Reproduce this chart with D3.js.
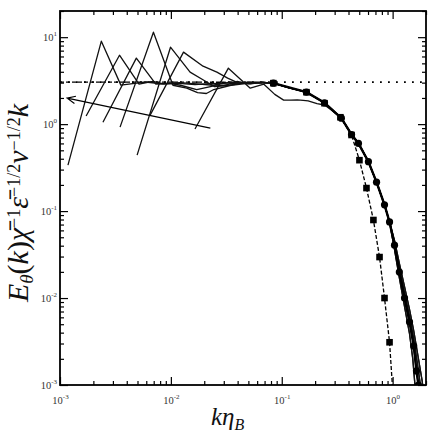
<!DOCTYPE html>
<html>
<head>
<meta charset="utf-8">
<script src="https://cdn.jsdelivr.net/npm/d3@7"></script>
<style>
  body { margin: 0; background: #fff; }
  .tick-label { font-family: "Liberation Serif", "DejaVu Serif", serif; fill: #333; }
  .title { font-family: "Liberation Serif", "DejaVu Serif", serif; fill: #111; }
</style>
</head>
<body>
<svg id="chart"></svg>
<script>
// ---- data ----
const xMajor = [1e-3, 1e-2, 1e-1, 1e0];
const xExp = ['-3', '-2', '-1', '0'];
const yMajor = [1e-3, 1e-2, 1e-1, 1e0, 1e1];
const yExp = ['-3', '-2', '-1', '0', '1'];

const plateau = 3.04;

// spectra heads (first harmonics + inertial wiggles)
const specA = [[0.00118,0.338],[0.00236,9.0],[0.00354,2.81],[0.00472,2.95],[0.0059,3.05],[0.0083,2.9],[0.0118,2.95],[0.0165,2.85],[0.0236,2.95],[0.033,2.9],[0.047,3.0]];
const specB = [[0.00172,1.24],[0.00344,6.2],[0.00516,2.88],[0.00688,3.1],[0.0086,2.9],[0.012,3.0],[0.0172,2.9],[0.024,2.8],[0.034,3.05],[0.048,2.95]];
const specC = [[0.00244,1.05],[0.00488,5.74],[0.00732,2.88],[0.00976,2.95],[0.0122,2.8],[0.0171,2.5],[0.0244,2.75],[0.034,2.8],[0.049,3.05]];
const specD = [[0.00348,0.924],[0.00696,11.4],[0.01044,2.8],[0.0139,2.6],[0.0174,2.3],[0.0209,2.25],[0.0244,2.5],[0.0348,2.8],[0.049,2.95]];
const specE = [[0.00496,0.44],[0.00992,7.67],[0.0149,3.96],[0.0198,3.2],[0.0248,2.7],[0.0298,2.75],[0.0397,3.1],[0.0496,2.9]];
const specG = [[0.0065,1.27],[0.013,6.73],[0.0195,4.64],[0.026,3.96],[0.0325,3.38],[0.039,3.04],[0.052,2.9]];
const specF = [[0.0165,0.88],[0.033,4.4],[0.052,2.59],[0.069,2.88],[0.0865,2.2],[0.104,1.89],[0.121,1.89],[0.138,1.9],[0.156,1.88],[0.173,1.85],[0.208,1.72],[0.243,1.66],[0.28,1.45]];

// common curve and dissipation tails
const mainCurve = [[0.067,3.02],[0.084,2.96],[0.117,2.62],[0.167,2.33],[0.243,1.76],[0.345,1.17],[0.426,0.76],[0.492,0.60],[0.605,0.37],[0.716,0.215],[0.845,0.118],[0.938,0.075]];
const tailLow  = [[1.04,0.036],[1.15,0.017],[1.28,0.008],[1.42,0.0039],[1.52,0.002],[1.58,0.0011],[1.62,0.0007]];
const tailMid  = [[1.04,0.0406],[1.15,0.0199],[1.28,0.0100],[1.42,0.0053],[1.55,0.0028],[1.64,0.00145],[1.71,0.001],[1.74,0.0008]];
const tailMid2 = [[1.04,0.043],[1.15,0.022],[1.28,0.0115],[1.42,0.0062],[1.55,0.0034],[1.68,0.0017],[1.8,0.0009]];
const tailHigh = [[1.04,0.046],[1.15,0.025],[1.28,0.0135],[1.42,0.0074],[1.55,0.0042],[1.71,0.002],[1.85,0.0011],[1.95,0.0006]];

// circle-marked series
const circleK = [0.084,0.167,0.243,0.345,0.426,0.492,0.605,0.716,0.845,0.938,1.04,1.15,1.28,1.42,1.55,1.64,1.71];
const circleE = [2.96,2.33,1.76,1.17,0.76,0.60,0.37,0.215,0.118,0.075,0.0406,0.0199,0.0100,0.0053,0.0028,0.00145,0.001];

// model (dashed, squares)
const modelK = [0.001,0.01,0.03,0.05,0.084,0.167,0.243,0.338,0.426,0.502,0.581,0.671,0.762,0.845,0.938,1.0];
const modelE = [3.04,3.04,3.03,3.0,2.96,2.33,1.74,1.2,0.75,0.385,0.184,0.079,0.0296,0.01,0.0031,0.0009];
const squareK = [0.084,0.167,0.243,0.338,0.426,0.502,0.581,0.671,0.762,0.845,0.938];
const squareE = [2.96,2.33,1.74,1.2,0.75,0.385,0.184,0.079,0.0296,0.01,0.0031];

// arrow annotation (data coords)
const arrowFrom = [0.0227, 0.90];
const arrowTo = [0.00116, 1.99];

// ---- chart ----
const W = 436, H = 436;
const margin = {top: 11, right: 10, bottom: 51, left: 60};
const width = W - margin.left - margin.right;
const height = H - margin.top - margin.bottom;

const svg = d3.select('#chart').attr('width', W).attr('height', H);
const chart = svg.append('g').attr('transform', `translate(${margin.left},${margin.top})`);

const x = d3.scaleLog().domain([1e-3, 2]).range([0, width]);
const y = d3.scaleLog().domain([1e-3, 20]).range([height, 0]);

function minorTicks(domain) {
  const out = [];
  for (let e = -3; e <= 1; e++) {
    for (let m = 2; m <= 9; m++) {
      const v = m * Math.pow(10, e);
      if (v > domain[0] && v <= domain[1]) out.push(v);
    }
  }
  return out;
}
const xMinor = minorTicks(x.domain());
const yMinor = minorTicks(y.domain());

svg.append('defs').append('clipPath').attr('id', 'clip')
  .append('rect').attr('width', width).attr('height', height);

const plot = chart.append('g').attr('clip-path', 'url(#clip)');
const line = d3.line().x(d => x(d[0])).y(d => y(d[1]));

function joinSpec(head, tail) {
  const last = head[head.length - 1][0];
  return head.concat(mainCurve.filter(d => d[0] > last), tail);
}
const spectra = [
  joinSpec(specA, tailHigh), joinSpec(specB, tailMid2), joinSpec(specC, tailMid),
  joinSpec(specD, tailLow), joinSpec(specE, tailMid2), joinSpec(specG, tailHigh),
  joinSpec(specF, tailLow)
];

// dotted plateau
plot.append('line')
  .attr('x1', 0).attr('x2', width)
  .attr('y1', y(plateau)).attr('y2', y(plateau))
  .attr('stroke', '#000').attr('stroke-width', 1.6)
  .attr('stroke-dasharray', '1.8,6.2');

// model dashed line
plot.append('path')
  .datum(modelK.map((k, i) => [k, modelE[i]]))
  .attr('d', line).attr('fill', 'none')
  .attr('stroke', '#000').attr('stroke-width', 1.3)
  .attr('stroke-dasharray', '4,2');

// spectra
plot.selectAll('.spec')
  .data(spectra)
  .join('path')
  .attr('class', 'spec')
  .attr('d', line).attr('fill', 'none')
  .attr('stroke', '#111').attr('stroke-width', 1.3)
  .attr('stroke-linejoin', 'round');

// circle series
const circlePts = circleK.map((k, i) => [k, circleE[i]]);
plot.append('path').datum(circlePts)
  .attr('d', line).attr('fill', 'none')
  .attr('stroke', '#000').attr('stroke-width', 2.4);
plot.selectAll('.circ')
  .data(circlePts)
  .join('circle')
  .attr('class', 'circ')
  .attr('cx', d => x(d[0])).attr('cy', d => y(d[1]))
  .attr('r', 3.6).attr('fill', '#000');

// squares
plot.selectAll('.sq')
  .data(squareK.map((k, i) => [k, squareE[i]]))
  .join('rect')
  .attr('class', 'sq')
  .attr('x', d => x(d[0]) - 3.3).attr('y', d => y(d[1]) - 3.3)
  .attr('width', 6.6).attr('height', 6.6).attr('fill', '#000');

// arrow
const ax1 = x(arrowFrom[0]), ay1 = y(arrowFrom[1]);
const ax2 = x(arrowTo[0]), ay2 = y(arrowTo[1]);
const ang = Math.atan2(ay1 - ay2, ax1 - ax2);
const headLen = 9, spread = 0.42;
plot.append('path')
  .attr('d', `M${ax1},${ay1}L${ax2},${ay2}` +
    `M${ax2 + headLen * Math.cos(ang - spread)},${ay2 + headLen * Math.sin(ang - spread)}L${ax2},${ay2}` +
    `L${ax2 + headLen * Math.cos(ang + spread)},${ay2 + headLen * Math.sin(ang + spread)}`)
  .attr('fill', 'none').attr('stroke', '#000').attr('stroke-width', 1.2);

// axes: ticks inward on all four sides
function styleAxis(g) {
  g.select('.domain').remove();
  g.selectAll('.tick line').attr('stroke', '#000').attr('stroke-width', 1.2);
}
chart.append('g').attr('transform', `translate(0,${height})`)
  .call(d3.axisBottom(x).tickValues(xMinor).tickSize(-4).tickFormat(''))
  .call(styleAxis);
const xAxisG = chart.append('g').attr('transform', `translate(0,${height})`)
  .call(d3.axisBottom(x).tickValues(xMajor).tickSize(-8).tickPadding(10).tickFormat(''))
  .call(styleAxis);
chart.append('g')
  .call(d3.axisTop(x).tickValues(xMinor).tickSize(-4).tickFormat(''))
  .call(styleAxis);
chart.append('g')
  .call(d3.axisTop(x).tickValues(xMajor).tickSize(-8).tickFormat(''))
  .call(styleAxis);
chart.append('g')
  .call(d3.axisLeft(y).tickValues(yMinor).tickSize(-4).tickFormat(''))
  .call(styleAxis);
const yAxisG = chart.append('g')
  .call(d3.axisLeft(y).tickValues(yMajor).tickSize(-8).tickPadding(4).tickFormat(''))
  .call(styleAxis);
chart.append('g').attr('transform', `translate(${width},0)`)
  .call(d3.axisRight(y).tickValues(yMinor).tickSize(-4).tickFormat(''))
  .call(styleAxis);
chart.append('g').attr('transform', `translate(${width},0)`)
  .call(d3.axisRight(y).tickValues(yMajor).tickSize(-8).tickFormat(''))
  .call(styleAxis);

// tick labels as 10^n
xAxisG.selectAll('.tick').each(function(d, i) {
  const t = d3.select(this).select('text')
    .attr('class', 'tick-label').attr('y', 19).attr('dy', null)
    .attr('text-anchor', 'middle').attr('font-size', 10.5);
  t.append('tspan').text('10');
  t.append('tspan').attr('dy', -5).attr('font-size', 7).text(xExp[i]);
});
yAxisG.selectAll('.tick').each(function(d, i) {
  const t = d3.select(this).select('text')
    .attr('class', 'tick-label').attr('x', -3).attr('dy', '0.35em')
    .attr('text-anchor', 'end').attr('font-size', 10.5);
  t.append('tspan').text('10');
  t.append('tspan').attr('dy', -5).attr('font-size', 7).text(yExp[i]);
});

// frame
chart.append('rect')
  .attr('width', width).attr('height', height)
  .attr('fill', 'none').attr('stroke', '#000').attr('stroke-width', 1.8);

// axis titles
const xt = svg.append('text').attr('class', 'title')
  .attr('x', 211).attr('y', 425).attr('font-size', 25);
xt.append('tspan').attr('font-style', 'italic').text('k');
xt.append('tspan').attr('font-style', 'italic').text('η');
xt.append('tspan').attr('font-style', 'italic').attr('font-size', 16).attr('dy', 5).text('B');

const yt = svg.append('text').attr('class', 'title')
  .attr('transform', 'translate(28,203) rotate(-90)')
  .attr('text-anchor', 'middle').attr('font-size', 30);
yt.append('tspan').attr('font-style', 'italic').text('E');
yt.append('tspan').attr('font-style', 'italic').attr('font-size', 19).attr('dy', 5).text('θ');
yt.append('tspan').attr('dy', -5).text('(');
yt.append('tspan').attr('font-style', 'italic').text('k');
yt.append('tspan').text(')');
yt.append('tspan').attr('font-style', 'italic').text('χ\u0304');
yt.append('tspan').attr('font-size', 18).attr('dy', -8).text('−1');
yt.append('tspan').attr('font-style', 'italic').attr('dy', 8).text('ε\u0304');
yt.append('tspan').attr('font-size', 18).attr('dy', -8).text('−1/2');
yt.append('tspan').attr('font-style', 'italic').attr('dy', 8).text('ν');
yt.append('tspan').attr('font-size', 18).attr('dy', -8).text('−1/2');
yt.append('tspan').attr('font-style', 'italic').attr('dy', 8).text('k');
</script>
</body>
</html>
